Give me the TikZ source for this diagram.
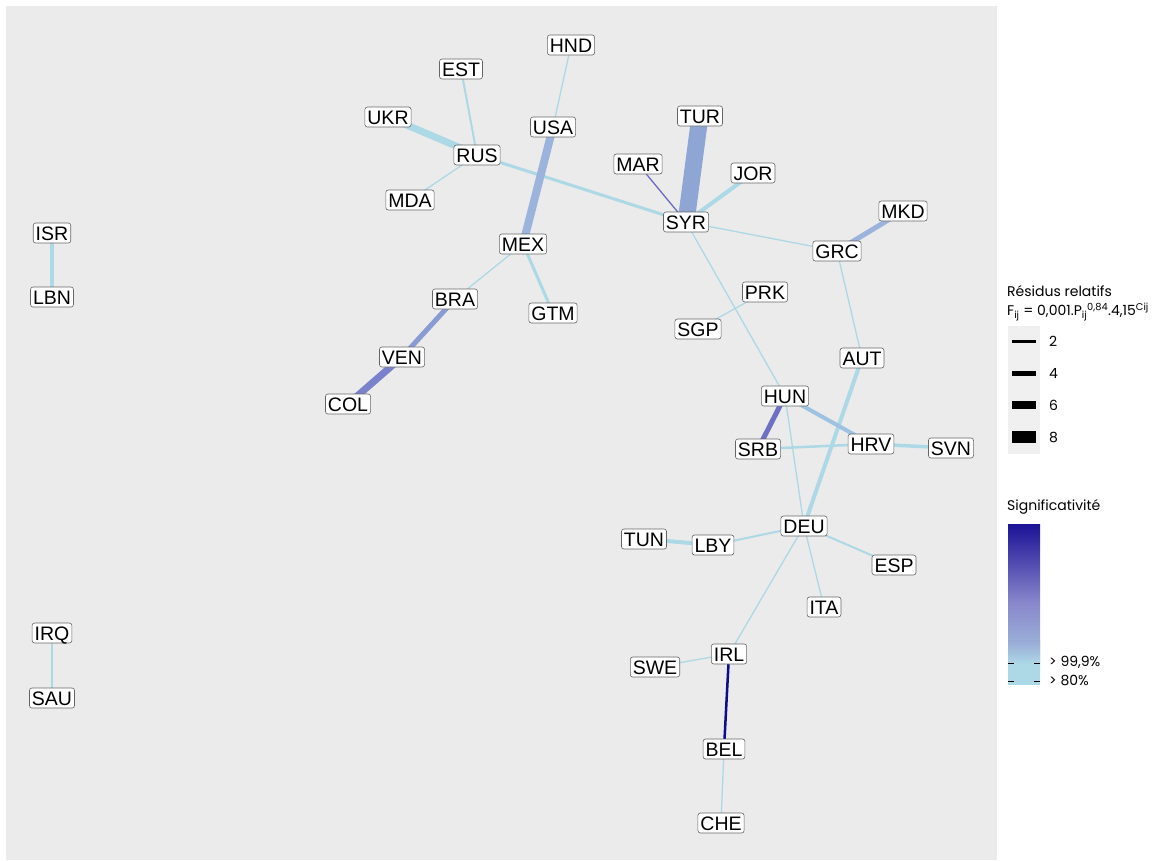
\documentclass[tikz,border=0pt]{standalone}
\usepackage{fontspec}
\setmainfont{Liberation Sans}
\newfontfamily\legfont{Poppins}
\definecolor{panel}{HTML}{EBEBEB}
\definecolor{lb}{HTML}{ADD8E6}
\definecolor{cA}{HTML}{9CB3DB}
\definecolor{cTur}{HTML}{8FA6D4}
\definecolor{cVen}{HTML}{8A9AD2}
\definecolor{cCol}{HTML}{7A82CB}
\definecolor{cSrb}{HTML}{6E71C3}
\definecolor{cMar}{HTML}{6A6CC0}
\definecolor{cBel}{HTML}{0C0C8C}
\definecolor{cHrv}{HTML}{9EC3E2}
\definecolor{keybg}{HTML}{F0F0F0}
\definecolor{gtop}{HTML}{1C1296}
\definecolor{gmid}{HTML}{8A88CC}
\begin{document}
\begin{tikzpicture}[x=1pt,y=-1pt,
  cty/.style={draw=black!60,line width=0.6pt,fill=white,rounded corners=2.5pt,
    font=\fontsize{19.5}{19.5}\selectfont,inner xsep=2.5pt,inner ysep=3pt,
    text height=14pt,text depth=0pt},
  lnk/.style={line cap=butt},
  leg/.style={font=\legfont\fontsize{14}{14}\selectfont,anchor=west,inner sep=0pt}]
\useasboundingbox (0,0) rectangle (1161,860);
\fill[panel] (6,6) rectangle (997,860);

% nodes positions
\path
 (571,45) coordinate (pHND)
 (461,69) coordinate (pEST)
 (388,117) coordinate (pUKR)
 (553,127) coordinate (pUSA)
 (700,116) coordinate (pTUR)
 (477,155) coordinate (pRUS)
 (638,164) coordinate (pMAR)
 (753,173) coordinate (pJOR)
 (410,200) coordinate (pMDA)
 (686,222) coordinate (pSYR)
 (903,211) coordinate (pMKD)
 (52,233) coordinate (pISR)
 (523,244) coordinate (pMEX)
 (837,251) coordinate (pGRC)
 (52,297) coordinate (pLBN)
 (455,299) coordinate (pBRA)
 (765,292) coordinate (pPRK)
 (553,313) coordinate (pGTM)
 (698,329) coordinate (pSGP)
 (402,357) coordinate (pVEN)
 (862,358) coordinate (pAUT)
 (348,404) coordinate (pCOL)
 (785,396) coordinate (pHUN)
 (758,449) coordinate (pSRB)
 (871,444) coordinate (pHRV)
 (951,448) coordinate (pSVN)
 (804,526) coordinate (pDEU)
 (644,539) coordinate (pTUN)
 (713,545) coordinate (pLBY)
 (894,565) coordinate (pESP)
 (824,607) coordinate (pITA)
 (52,633) coordinate (pIRQ)
 (729,654) coordinate (pIRL)
 (655,667) coordinate (pSWE)
 (52,698) coordinate (pSAU)
 (724,749) coordinate (pBEL)
 (721,823) coordinate (pCHE);

% links
\draw[lnk,lb,line width=1.3pt] (pHND) -- (pUSA);
\draw[lnk,lb,line width=2pt] (pEST) -- (pRUS);
\draw[lnk,lb,line width=7pt] (pUKR) -- (pRUS);
\draw[lnk,lb,line width=1.3pt] (pRUS) -- (pMDA);
\draw[lnk,lb,line width=3pt] (pRUS) -- (pSYR);
\draw[lnk,cA,line width=8pt] (pUSA) -- (pMEX);
\draw[lnk,lb,line width=1.3pt] (pMEX) -- (pBRA);
\draw[lnk,lb,line width=3pt] (pMEX) -- (pGTM);
\draw[lnk,cVen,line width=5pt] (pBRA) -- (pVEN);
\draw[lnk,cCol,line width=7pt] (pVEN) -- (pCOL);
\draw[lnk,cTur,line width=17pt] (pTUR) -- (pSYR);
\draw[lnk,cMar,line width=1.3pt] (pMAR) -- (pSYR);
\draw[lnk,lb,line width=4pt] (pJOR) -- (pSYR);
\draw[lnk,lb,line width=1.3pt] (pSYR) -- (pGRC);
\draw[lnk,lb,line width=1.3pt] (pSYR) -- (pHUN);
\draw[lnk,cA,line width=5pt] (pMKD) -- (pGRC);
\draw[lnk,lb,line width=1.3pt] (pGRC) -- (pAUT);
\draw[lnk,lb,line width=4pt] (pISR) -- (pLBN);
\draw[lnk,lb,line width=1.3pt] (pPRK) -- (pSGP);
\draw[lnk,lb,line width=4pt] (pAUT) -- (pDEU);
\draw[lnk,cSrb,line width=5pt] (pHUN) -- (pSRB);
\draw[lnk,cHrv,line width=4pt] (pHUN) -- (pHRV);
\draw[lnk,lb,line width=1.3pt] (pHUN) -- (pDEU);
\draw[lnk,lb,line width=2.5pt] (pSRB) -- (pHRV);
\draw[lnk,lb,line width=3.5pt] (pHRV) -- (pSVN);
\draw[lnk,lb,line width=2pt] (pDEU) -- (pLBY);
\draw[lnk,lb,line width=4pt] (pTUN) -- (pLBY);
\draw[lnk,lb,line width=2pt] (pDEU) -- (pESP);
\draw[lnk,lb,line width=1.3pt] (pDEU) -- (pITA);
\draw[lnk,lb,line width=1.3pt] (pDEU) -- (pIRL);
\draw[lnk,lb,line width=1.3pt] (pIRL) -- (pSWE);
\draw[lnk,cBel,line width=2.5pt] (pIRL) -- (pBEL);
\draw[lnk,lb,line width=1.3pt] (pBEL) -- (pCHE);
\draw[lnk,lb,line width=2pt] (pIRQ) -- (pSAU);

% labels
\foreach \c in {HND,EST,UKR,USA,TUR,RUS,MAR,JOR,MDA,SYR,MKD,ISR,MEX,GRC,LBN,BRA,PRK,GTM,SGP,VEN,AUT,COL,HUN,SRB,HRV,SVN,DEU,TUN,LBY,ESP,ITA,IRQ,IRL,SWE,SAU,BEL,CHE}
  \node[cty] (\c) at (p\c) {\c};

% legend: width
\node[leg] (lt1) at (1007,291) {Résidus relatifs};
\node[leg] (lt2) at (1007,312) {F\textsubscript{ij} = 0,001.P\textsubscript{ij}\textsuperscript{0,84}.4,15\textsuperscript{Cij}};
\fill[keybg] (1008,326) rectangle (1040,454);
\fill[black] (1012,339.5) rectangle (1036,342.5);
\fill[black] (1012,370.5) rectangle (1036,375.5);
\fill[black] (1012,401) rectangle (1036,409);
\fill[black] (1012,431) rectangle (1036,443);
\node[leg] (k2) at (1049,341) {2};
\node[leg] (k4) at (1049,373) {4};
\node[leg] (k6) at (1049,405) {6};
\node[leg] (k8) at (1049,437) {8};

% legend: significance
\node[leg] (lt3) at (1007,507) {Significativité};
\shade[top color=gtop,bottom color=lb,middle color=gmid,shading angle=0] (1008,524) rectangle (1040,684);
\fill[lb] (1008,664) rectangle (1040,684);
\shade[top color=gmid!60!lb,bottom color=lb] (1008,640) rectangle (1040,664);
\draw[black,line width=0.8pt] (1008,663) -- (1014,663) (1034,663) -- (1040,663);
\draw[black,line width=0.8pt] (1008,681) -- (1014,681) (1034,681) -- (1040,681);
\node[leg] (s1) at (1049,662) {> 99,9\%};
\node[leg] (s2) at (1049,680) {> 80\%};
\end{tikzpicture}
\end{document}
